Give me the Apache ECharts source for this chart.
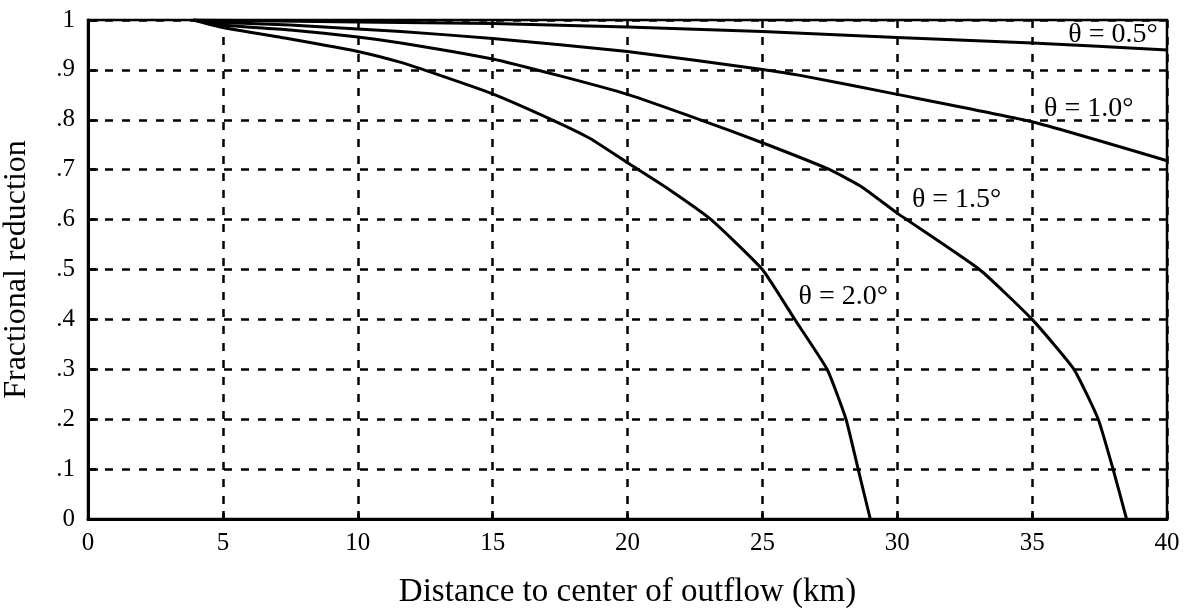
<!DOCTYPE html>
<html>
<head>
<meta charset="utf-8">
<title>Fractional reduction</title>
<script src="https://cdn.jsdelivr.net/npm/echarts@6/dist/echarts.min.js"></script>
<style>
  html, body { margin: 0; padding: 0; background: #fff; }
  #chart { width: 1195px; height: 610px; }
</style>
</head>
<body>
<div id="chart"></div>
<script>
// x ticks (km) and y tick labels
const xTicks = [0, 5, 10, 15, 20, 25, 30, 35, 40];
const yTickLabels = ["0", ".1", ".2", ".3", ".4", ".5", ".6", ".7", ".8", ".9", "1"];

// curves: [distance km, fractional reduction]
const theta05 = [[3.9, 1.0], [10, 0.996], [15, 0.993], [20, 0.986], [25, 0.977], [30, 0.965], [35, 0.954], [40, 0.94]];
const theta10 = [[3.9, 1.0], [5, 0.995], [7.5, 0.99], [10, 0.982], [11.6, 0.977], [15, 0.963], [20, 0.937], [25, 0.901], [26.4, 0.889], [30, 0.851], [35, 0.796], [40, 0.718]];
const theta15 = [[3.9, 1.0], [5, 0.99], [7.5, 0.98], [10, 0.966], [11.6, 0.954], [15, 0.922], [17.5, 0.888], [20, 0.851], [22.7, 0.8], [25, 0.754], [27.5, 0.7], [28.7, 0.665], [30, 0.613], [33.05, 0.5], [35.0, 0.4], [36.55, 0.3], [37.45, 0.2], [38.0, 0.1], [38.5, 0]];
const theta20 = [[3.9, 1.0], [5, 0.985], [7.5, 0.962], [10, 0.937], [11.6, 0.915], [13, 0.89], [15, 0.852], [17.2, 0.8], [18.6, 0.763], [20, 0.714], [21.5, 0.662], [23.1, 0.6], [25, 0.5], [26.2, 0.4], [27.4, 0.3], [28.1, 0.2], [28.55, 0.1], [29.0, 0]];

// curve labels: [x, y, text]
const curveLabels = [
  [38.0, 0.97, "θ = 0.5°"],
  [37.1, 0.822, "θ = 1.0°"],
  [32.2, 0.639, "θ = 1.5°"],
  [28.0, 0.445, "θ = 2.0°"]
];

const font = "'Liberation Serif', 'DejaVu Serif', serif";

function curve(name, data) {
  return {
    name: name,
    type: "line",
    data: data,
    showSymbol: false,
    smooth: 0.15,
    lineStyle: { color: "#000", width: 3, join: "round" },
    z: 5
  };
}

let myChart = echarts.init(document.getElementById("chart"));
let options = {
  backgroundColor: "#fff",
  animation: false,
  grid: {
    left: 88,
    right: 28,
    top: 20,
    bottom: 91,
    containLabel: false,
    outerBoundsMode: "none",
    show: true,
    borderColor: "#000",
    borderWidth: 2.5
  },
  xAxis: {
    type: "value",
    min: 0,
    max: 40,
    interval: 5,
    name: "Distance to center of outflow (km)",
    nameLocation: "middle",
    nameGap: 57,
    nameTextStyle: { color: "#000", fontFamily: font, fontSize: 33 },
    axisLine: { show: true, lineStyle: { color: "#000", width: 3 } },
    axisTick: { show: true, inside: true, length: 8, lineStyle: { color: "#000", width: 2.5 } },
    axisLabel: {
      color: "#000",
      fontFamily: font,
      fontSize: 25,
      margin: 12,
      formatter: function (v) { return xTicks.indexOf(v) >= 0 ? String(v) : ""; }
    },
    splitLine: { show: true, lineStyle: { color: "#000", width: 2.5, type: [8, 9] } }
  },
  yAxis: {
    type: "value",
    min: 0,
    max: 1,
    interval: 0.1,
    name: "Fractional reduction",
    nameLocation: "middle",
    nameGap: 55,
    nameTextStyle: { color: "#000", fontFamily: font, fontSize: 32 },
    axisLine: { show: true, lineStyle: { color: "#000", width: 3 } },
    axisTick: { show: true, inside: true, length: 10, lineStyle: { color: "#000", width: 2.5 } },
    axisLabel: {
      color: "#000",
      fontFamily: font,
      fontSize: 25,
      margin: 13,
      formatter: function (v) { return yTickLabels[Math.round(v * 10)]; }
    },
    splitLine: { show: true, lineStyle: { color: "#000", width: 2.5, type: [8, 9] } }
  },
  series: [
    curve("θ = 0.5°", theta05),
    curve("θ = 1.0°", theta10),
    curve("θ = 1.5°", theta15),
    curve("θ = 2.0°", theta20),
    {
      name: "labels",
      type: "scatter",
      symbolSize: 0,
      data: curveLabels,
      z: 6,
      silent: true,
      itemStyle: { opacity: 1 },
      label: {
        show: true,
        position: "inside",
        color: "#000",
        opacity: 1,
        fontFamily: font,
        fontSize: 28,
        textBorderWidth: 0,
        formatter: function (p) { return p.data[2]; }
      }
    }
  ]
};
myChart.setOption(options);
window.addEventListener("resize", function () {
  myChart.resize();
});
</script>
</body>
</html>
